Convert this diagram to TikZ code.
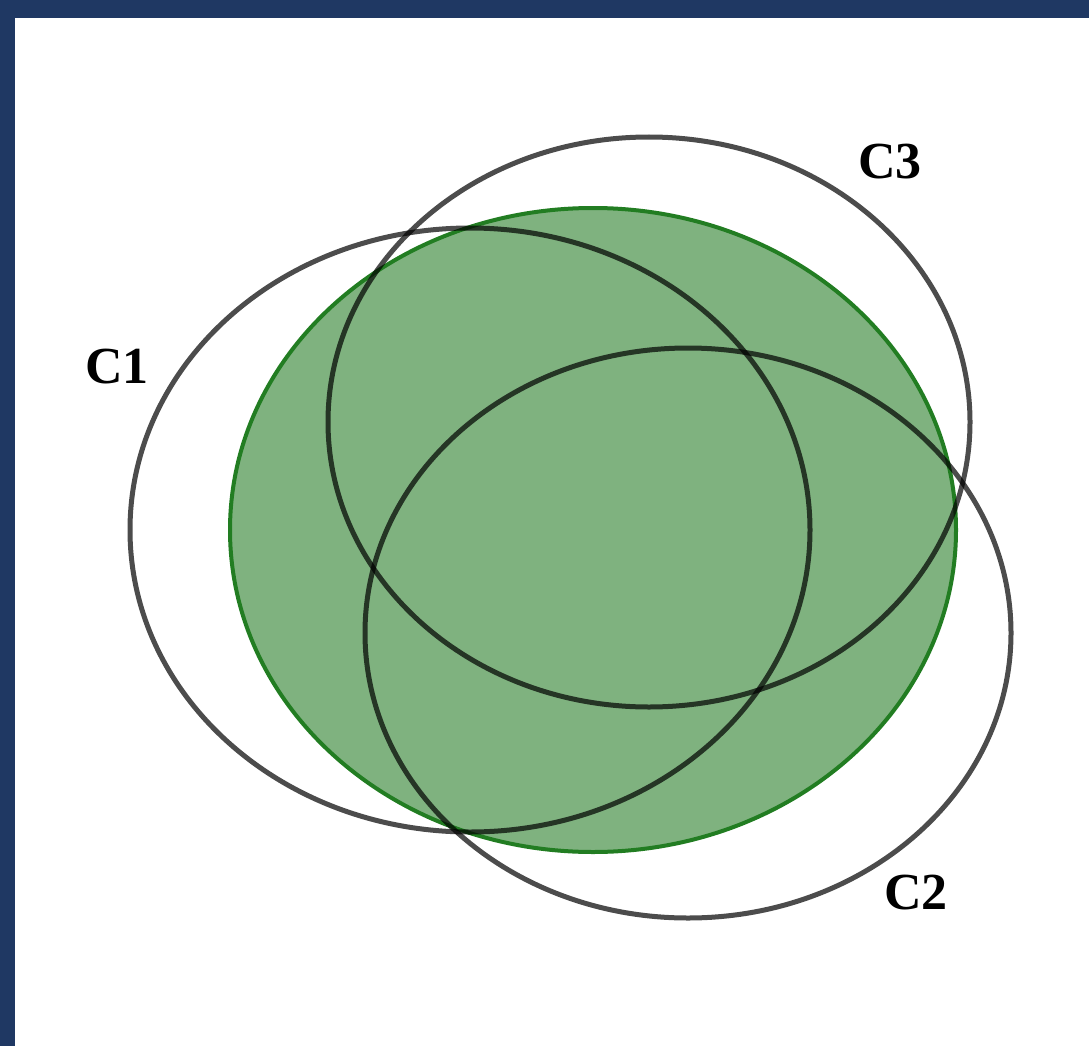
\documentclass[tikz,border=0pt]{standalone}
\usepackage{fontspec}
\setmainfont{Liberation Serif}
\definecolor{frameblue}{RGB}{31,56,99}
\definecolor{setfill}{RGB}{127,178,127}
\definecolor{setedge}{RGB}{34,125,34}
\tikzset{
  setline/.style={draw=black, draw opacity=0.7, line width=5pt},
  setlabel/.style={font=\bfseries\fontsize{52}{56}\selectfont, inner sep=0pt, text=black},
}
\begin{document}
\begin{tikzpicture}[x=1pt,y=-1pt]
\useasboundingbox (0,0) rectangle (1089,1046);
\fill[white] (0,0) rectangle (1089,1046);
\fill[frameblue] (0,0) rectangle (1089,18);
\fill[frameblue] (0,0) rectangle (15,1046);
% green set
\draw[fill=setfill, draw=setedge, line width=4pt] (593,530) ellipse [x radius=363, y radius=322];
% outlines
\draw[setline] (470,530) ellipse [x radius=340, y radius=302];
\draw[setline] (649,422) ellipse [x radius=321, y radius=285];
\draw[setline] (688,633) ellipse [x radius=323, y radius=285];
% labels
\node[setlabel] (c1) at (117,367) {C1};
\node[setlabel] (c3) at (890,162) {C3};
\node[setlabel] (c2) at (916,893) {C2};
\end{tikzpicture}
\end{document}
